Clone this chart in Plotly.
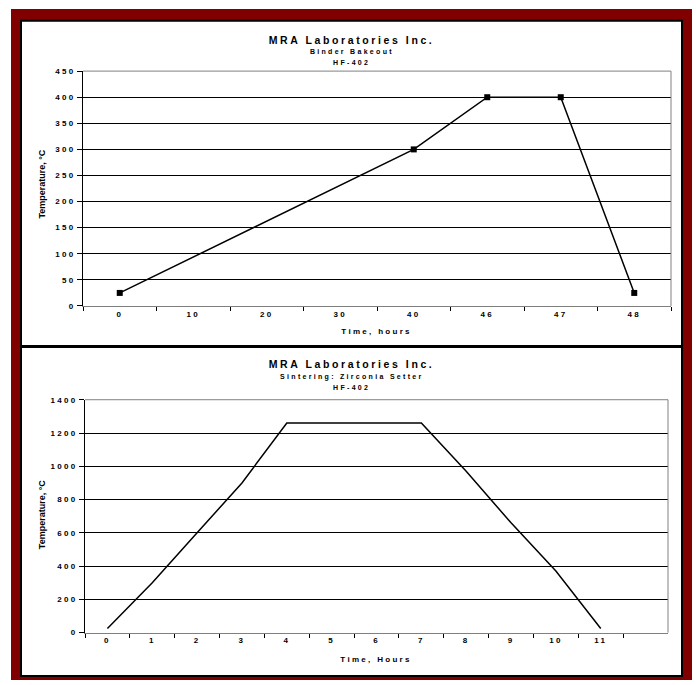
import plotly.graph_objects as go

# ---- data ----
bake_time = ["0", "10", "20", "30", "40", "46", "47", "48"]
bake_temp = [25, None, None, None, 300, 400, 400, 25]

sinter_time = ["0", "1", "2", "3", "4", "5", "6", "7", "8", "9", "10", "11"]
sinter_temp = [25, 300, 600, 900, 1260, 1260, 1260, 1260, 970, 660, 370, 25]

W, H = 696, 685
def X(px): return px / W
def Y(py): return 1 - py / H

FONT = "Liberation Sans, Arial, sans-serif"
RED = "#800000"
GRAY = "#808080"

fig = go.Figure()
fig.add_trace(go.Scatter(
    x=bake_time, y=bake_temp, mode="lines+markers", connectgaps=True,
    line=dict(color="black", width=1.5),
    marker=dict(symbol="square", size=6, color="black"),
    xaxis="x", yaxis="y", showlegend=False, hoverinfo="skip"))
fig.add_trace(go.Scatter(
    x=sinter_time, y=sinter_temp, mode="lines",
    line=dict(color="black", width=1.5),
    xaxis="x2", yaxis="y2", showlegend=False, hoverinfo="skip"))

tickfont = dict(family=FONT, size=8, color="black", weight="bold")

def xax(domain, cats, n, anchor):
    return dict(domain=domain, anchor=anchor, type="category",
                categoryorder="array", categoryarray=cats,
                range=[-0.5, n - 0.5], tickson="boundaries",
                ticks="outside", ticklen=4, tickcolor="black", tickwidth=1,
                showgrid=False, showline=True, linecolor=GRAY, linewidth=1,
                zeroline=False, tickfont=tickfont, fixedrange=True)

def yax(domain, rng, dtick, anchor):
    return dict(domain=domain, anchor=anchor, range=rng, dtick=dtick,
                tick0=0, showgrid=True, gridcolor="black", gridwidth=1,
                ticks="outside", ticklen=5, tickcolor="black", tickwidth=1,
                showline=True, linecolor="black", linewidth=1,
                zeroline=False, tickfont=tickfont, fixedrange=True)

top_xd = [X(83), X(671)]
top_yd = [Y(306), Y(68)]
bot_xd = [X(85), X(668)]
bot_yd = [Y(637), Y(401)]

shapes = [
    dict(type="rect", xref="paper", yref="paper", x0=X(11), x1=X(692),
         y0=Y(685), y1=Y(5), fillcolor=RED, line=dict(width=0), layer="below"),
    dict(type="rect", xref="paper", yref="paper", x0=X(21), x1=X(682),
         y0=Y(346.5), y1=Y(17), fillcolor="white",
         line=dict(color="black", width=2), layer="below"),
    dict(type="rect", xref="paper", yref="paper", x0=X(21), x1=X(682),
         y0=Y(681), y1=Y(347.5), fillcolor="white",
         line=dict(color="black", width=2), layer="below"),
]
for xd, yd in [(top_xd, top_yd), (bot_xd, bot_yd)]:
    shapes.append(dict(type="line", xref="paper", yref="paper",
                       x0=xd[0], x1=xd[1], y0=yd[1], y1=yd[1],
                       line=dict(color=GRAY, width=1), layer="above"))
    shapes.append(dict(type="line", xref="paper", yref="paper",
                       x0=xd[1], x1=xd[1], y0=yd[0], y1=yd[1],
                       line=dict(color=GRAY, width=1), layer="above"))

def ann(text, x, y, size, angle=0):
    return dict(text=text, xref="paper", yref="paper", x=X(x), y=Y(y),
                xanchor="center", yanchor="middle", showarrow=False,
                textangle=angle,
                font=dict(family=FONT, size=size, color="black", weight="bold"))

annotations = [
    ann("MRA Laboratories Inc.", 351.5, 36.5, 10.5),
    ann("Binder Bakeout", 351.5, 48, 7),
    ann("HF-402", 351.5, 59.5, 7),
    ann("Time, hours", 377, 332, 8),
    ann("Temperature, °C", 42, 183, 9, -90),
    ann("MRA Laboratories Inc.", 351.5, 365, 10.5),
    ann("Sintering: Zirconia Setter", 351.5, 377.5, 7),
    ann("HF-402", 351.5, 389, 7),
    ann("Time, Hours", 376, 664, 8),
    ann("Temperature, °C", 42, 518, 9, -90),
]

fig.update_layout(
    width=W, height=H, autosize=False,
    margin=dict(l=0, r=0, t=0, b=0, pad=0),
    paper_bgcolor="white", plot_bgcolor="rgba(0,0,0,0)",
    xaxis=xax(top_xd, bake_time, len(bake_time), "y"),
    yaxis=yax(top_yd, [0, 450], 50, "x"),
    xaxis2=xax(bot_xd, sinter_time, len(sinter_time) + 1, "y2"),
    yaxis2=yax(bot_yd, [0, 1400], 200, "x2"),
    shapes=shapes, annotations=annotations,
    font=dict(family=FONT, color="black"),
)

post = """
document.body.style.margin = '0';
document.body.style.padding = '0';
document.body.style.overflow = 'hidden';
var gd = document.getElementById('{plot_id}');
gd.querySelectorAll('text').forEach(function(t){
  var s = t.textContent || '';
  if (s.indexOf('Temperature') === 0) t.style.letterSpacing = '0px';
  else if (s.indexOf('MRA') === 0) t.style.letterSpacing = '2.6px';
  else t.style.letterSpacing = '2.3px';
});
"""

fig.write_html("out.html", config={"displayModeBar": False, "staticPlot": True},
               post_script=post)
